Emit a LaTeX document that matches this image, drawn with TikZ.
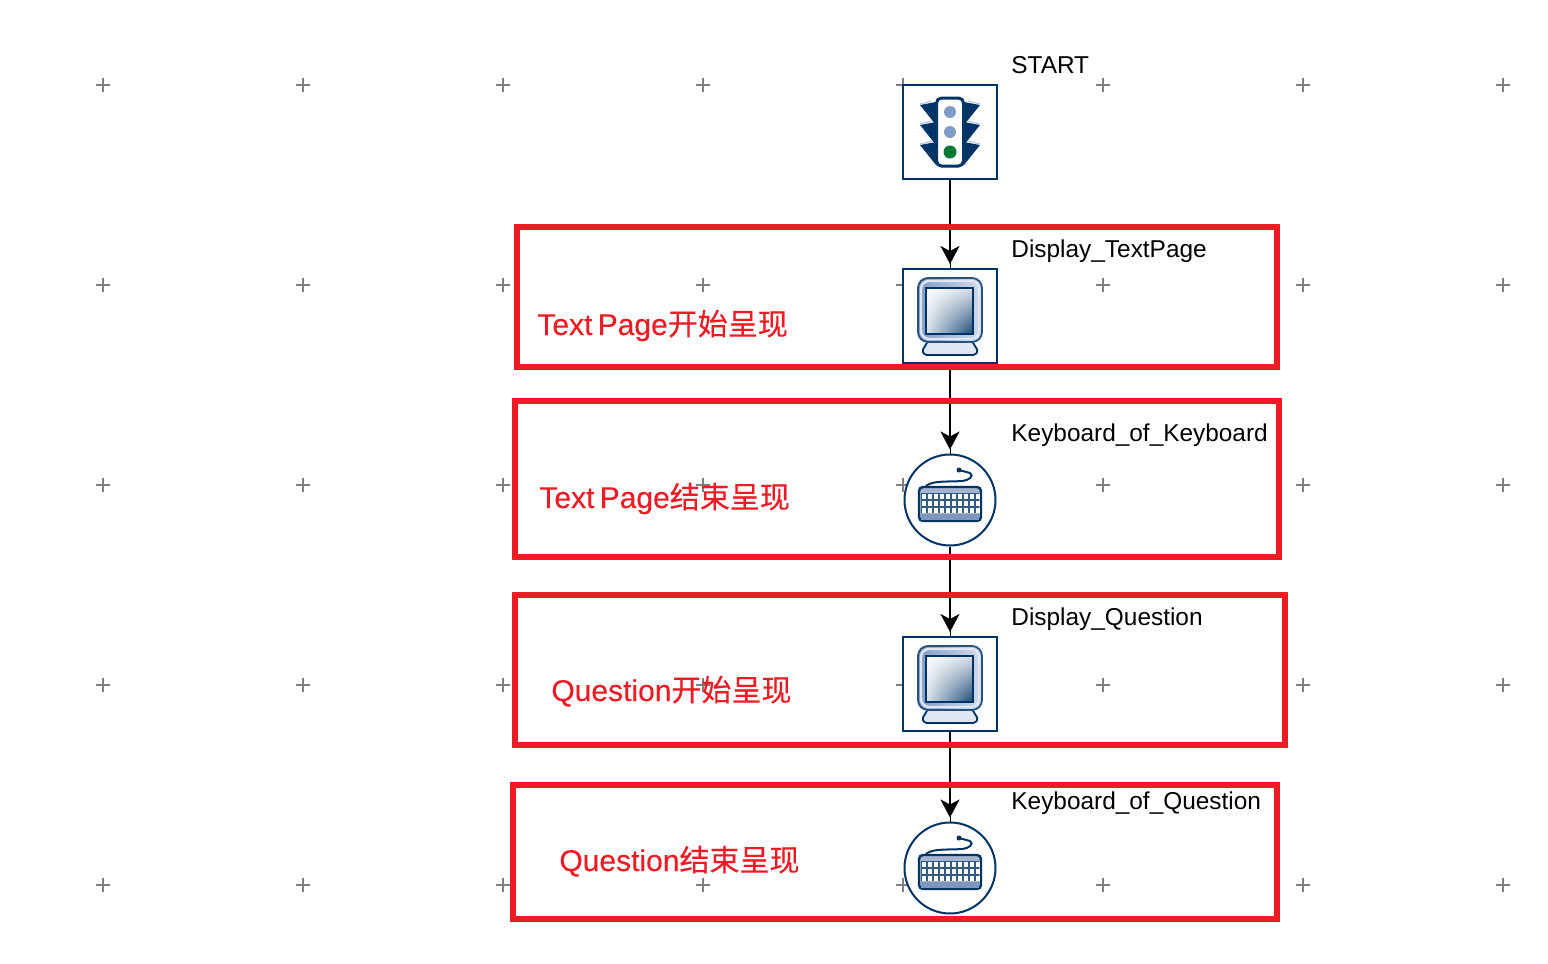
\documentclass[tikz,border=0pt]{standalone}
\usepackage{fontspec}
\usepackage{xcolor}
\usetikzlibrary{arrows.meta,shadings}
\setmainfont{Liberation Sans}
\newfontfamily\cjk[FakeBold=0.25]{Noto Sans CJK SC}
\newfontfamily\marklatin[FakeBold=0.25]{Liberation Sans}
\newcommand{\zh}[1]{{\cjk #1}}

\definecolor{navy}{HTML}{003366}
\definecolor{markred}{HTML}{ED1C24}
\definecolor{lampblue}{HTML}{7F9CC6}
\definecolor{lampgreen}{HTML}{007A33}
\definecolor{keyblue}{HTML}{7E95BC}

\tikzset{
  block/.style={draw=navy, fill=white, line width=1pt, inner sep=0pt, minimum size=47pt},
  round block/.style={block, circle, minimum size=45.5pt},
  caption/.style={anchor=base west, inner sep=0pt, font=\fontsize{12.2}{14}\selectfont},
  mark text/.style={anchor=base west, inner sep=0pt, text=markred, font=\marklatin\fontsize{15}{18}\selectfont},
  mark box/.style={draw=markred, line width=3pt, inner sep=0pt},
  flow/.style={-{Stealth[length=9pt, width=9.5pt, inset=2.5pt]}, line width=1pt, xshift=0.5pt,
    shorten >=2pt, preaction={draw, arrows=-, shorten >=0pt}},
  lights/.pic={
    \foreach \s in {-1,1} \foreach \y in {-27,-7,13} {
      \fill[navy] (\s*30,\y) -- (\s*14,\y-3) -- (\s*14,\y+20) -- cycle;
      \draw[lampblue!60, line width=0.5pt] (\s*30,\y-1) -- (\s*18,\y-4);
    }
    \draw[navy, fill=white, line width=1.5pt, rounded corners=2.5pt] (-13.5,-34) rectangle (13.5,34);
    \fill[lampblue] (0,-20) circle (6) (0,0) circle (6);
    \fill[lampgreen] (0,20) circle (6.5);
  },
  screen/.pic={
    \draw[navy, fill=lampblue!25, line width=0.9pt, rounded corners=0.8pt]
      (-22,25) -- (22,25) -- (28,35) -- (25,39) -- (-25,39) -- (-28,35) -- cycle;
    \shade[left color=lampblue, right color=lampblue!35, rounded corners=5pt, draw=navy!85, line width=0.9pt]
      (-32,-38) rectangle (32,26);
    \draw[white!75!lampblue, line width=1.2pt, rounded corners=4pt] (-29,-35) rectangle (29,23);
    \shade[draw=navy, line width=1.1pt, upper left=white, lower left=white!85!navy,
      upper right=white!85!navy, lower right=navy!90]
      (-24,-28) rectangle (23,18);
  },
  keys/.pic={
    \draw[navy, line width=1pt] (-25,-12) .. controls (-23,-20) and (0,-18) .. (12,-19)
      .. controls (20,-20) and (24,-24) .. (20,-27) -- (9,-30);
    \fill[navy] (9,-30) circle (2.5);
    \draw[navy, fill=keyblue!70, line width=1.2pt, rounded corners=2pt] (-31,-13) rectangle (31,21);
    \fill[navy!80] (-29,-7) rectangle (29,13);
    \foreach \y in {-6,1,8} \foreach \x in {-26,-20,...,28}
      \fill[white] (\x-2,\y) rectangle (\x+2,\y+4.5);
    \fill[keyblue] (-29,14) rectangle (29,19.5);
  },
}

\begin{document}
\begin{tikzpicture}[x=0.5pt, y=-0.5pt, node distance=92pt]
  \useasboundingbox (0,0) rectangle (1548,964);

  % grid crosses
  \foreach \i in {103,303,...,1503} \foreach \j in {85,285,...,885}
    \draw[gray, line width=0.8pt] (\i-7,\j) -- (\i+7,\j) (\i,\j-7) -- (\i,\j+7);

  \node (S) [block] at (950,132) {};
  \node (T) [block, below of=S] {};
  \node (K) [round block, below of=T] {};
  \node (Q) [block, below of=K] {};
  \node (A) [round block, below of=Q] {};

  \pic at (S) {lights};
  \pic at (T) {screen};
  \pic at (K) {keys};
  \pic at (Q) {screen};
  \pic at (A) {keys};

  \draw[flow] (S) -- (T);
  \draw[flow] (T) -- (K);
  \draw[flow] (K) -- (Q);
  \draw[flow] (Q) -- (A);

  \node (S label) [caption] at (1011,73) {START};
  \node (T label) [caption] at (1011,257) {Display\_TextPage};
  \node (K label) [caption] at (1011,441) {Keyboard\_of\_Keyboard};
  \node (Q label) [caption] at (1011,625) {Display\_Question};
  \node (A label) [caption] at (1011,809) {Keyboard\_of\_Question};

  % red marks on top
  \node (T box) [mark box, minimum width=380pt, minimum height=70pt] at (897,297) {};
  \node (K box) [mark box, minimum width=382pt, minimum height=78pt] at (897,479) {};
  \node (Q box) [mark box, minimum width=385pt, minimum height=75pt] at (900,670) {};
  \node (A box) [mark box, minimum width=382pt, minimum height=67pt] at (895,852) {};

  \node (T mark) [mark text] at (537,335) {Text\hspace{-1.5pt} Page\zh{开始呈现}};
  \node (K mark) [mark text] at (539,508) {Text\hspace{-1.5pt} Page\zh{结束呈现}};
  \node (Q mark) [mark text] at (551,701) {Question\zh{开始呈现}};
  \node (A mark) [mark text] at (559,871) {Question\zh{结束呈现}};
\end{tikzpicture}
\end{document}
